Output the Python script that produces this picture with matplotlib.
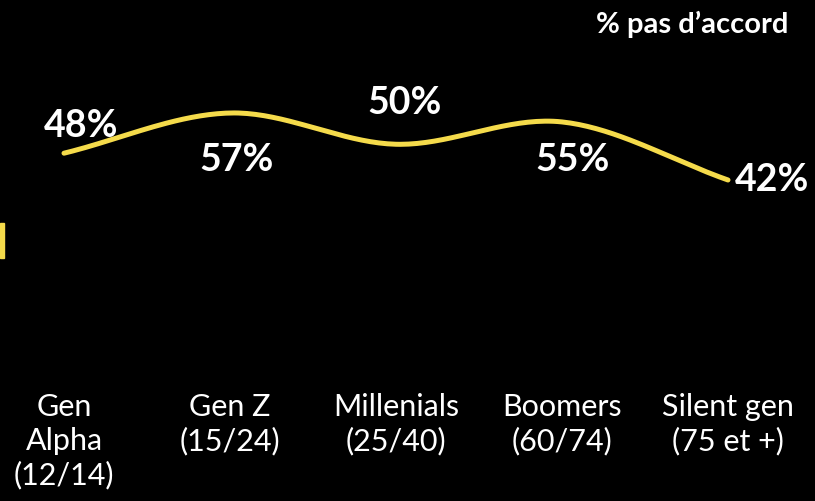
import numpy as np
import matplotlib.pyplot as plt
from matplotlib.patches import Rectangle

categories = ['Gen\nAlpha\n(12/14)', 'Gen Z\n(15/24)', 'Millenials\n(25/40)',
              'Boomers\n(60/74)', 'Silent gen\n(75 et +)']
values = [48, 57, 50, 55, 42]
value_labels = ['48%', '57%', '50%', '55%', '42%']

# label offsets in pixels from each point
offsets = [(17, 27), (7, -47), (9, 41), (11, -38), (44, 0)]

YELLOW = '#F5DB4B'
plt.rcParams['font.family'] = ['Lato', 'DejaVu Sans']


def catmull_rom(x, y, n=40):
    # smooth curve through the points, like office "smoothed line"
    px = np.concatenate([[2 * x[0] - x[1]], x, [2 * x[-1] - x[-2]]])
    py = np.concatenate([[2 * y[0] - y[1]], y, [2 * y[-1] - y[-2]]])
    xs, ys = [], []
    t = np.linspace(0, 1, n)
    for i in range(1, len(px) - 2):
        for p, out in ((px, xs), (py, ys)):
            p0, p1, p2, p3 = p[i - 1], p[i], p[i + 1], p[i + 2]
            m1 = (p2 - p0) / 2
            m2 = (p3 - p1) / 2
            h00 = 2 * t**3 - 3 * t**2 + 1
            h10 = t**3 - 2 * t**2 + t
            h01 = -2 * t**3 + 3 * t**2
            h11 = t**3 - t**2
            out.append(h00 * p1 + h10 * m1 + h01 * p2 + h11 * m2)
    return np.concatenate(xs), np.concatenate(ys)


fig = plt.figure(figsize=(8.15, 5.01), dpi=100, facecolor='black')
ax = fig.add_axes([0, 116 / 501, 1, 385 / 501])
ax.set_facecolor('black')

x = np.arange(len(values), dtype=float)
sx, sy = catmull_rom(x, np.array(values, dtype=float))
ax.plot(sx, sy, color=YELLOW, lw=3.6, solid_capstyle='round')

for xi, v, lab, off in zip(x, values, value_labels, offsets):
    ax.annotate(lab, (xi, v), xytext=off, textcoords='offset pixels',
                ha='center', va='center', color='white', fontsize=27,
                fontweight='bold')

ax.set_xlim(-64 / 166, 751 / 166)
ax.set_ylim(42 - 205 / 4.467, 42 + 180 / 4.467)
ax.set_xticks(x)
ax.set_xticklabels(categories, color='white', fontsize=22, linespacing=1.25,
                   va='top', fontweight='normal')
ax.tick_params(axis='x', length=0, pad=6)
ax.set_yticks([])
for s in ax.spines.values():
    s.set_visible(False)

fig.text(788 / 815, 1 - 24 / 501, '% pas d\u2019accord', color='white',
         fontsize=21, fontweight='bold', ha='right', va='center')

fig.patches.append(Rectangle((0, 1 - 258 / 501), 3.5 / 815, 35 / 501,
                             transform=fig.transFigure, color=YELLOW))

fig.savefig('out.png', dpi=100, facecolor='black')
